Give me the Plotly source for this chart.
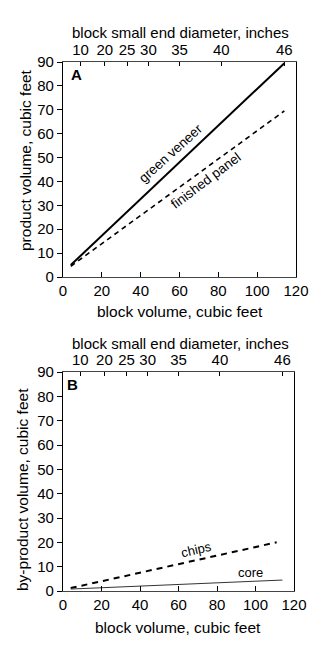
import plotly.graph_objects as go

# ---- data ----
block_vol = [4, 114]                 # block volume, cubic feet (line ends)
green_veneer = [5, 89.5]             # product volume, cubic feet
finished_panel = [4.5, 69.5]
chips_vol = [4, 111]
chips = [1.2, 20]
core_vol = [4, 114]
core = [0.8, 4.5]

x_ticks = [0, 20, 40, 60, 80, 100, 120]
y_ticks = [0, 10, 20, 30, 40, 50, 60, 70, 80, 90]
diam_labels = ["10", "20", "25", "30", "35", "40", "46"]
diam_pos = [9, 21.5, 33, 44, 60, 81.5, 114]   # block volume at each diameter

FONT = "Liberation Sans, Arial, Helvetica, sans-serif"
W, H = 325, 653

def px_x(p):
    return p / W

def px_y(p):
    return 1 - p / H

fig = go.Figure()

# Panel A
fig.add_trace(go.Scatter(x=block_vol, y=green_veneer, mode="lines",
                         line=dict(color="black", width=2), xaxis="x", yaxis="y",
                         showlegend=False, hoverinfo="skip"))
fig.add_trace(go.Scatter(x=block_vol, y=finished_panel, mode="lines",
                         line=dict(color="black", width=1.6, dash="5px,4px"),
                         xaxis="x", yaxis="y", showlegend=False, hoverinfo="skip"))
# Panel B
fig.add_trace(go.Scatter(x=chips_vol, y=chips, mode="lines",
                         line=dict(color="black", width=2, dash="6px,5px"),
                         xaxis="x2", yaxis="y2", showlegend=False, hoverinfo="skip"))
fig.add_trace(go.Scatter(x=core_vol, y=core, mode="lines",
                         line=dict(color="#333333", width=1),
                         xaxis="x2", yaxis="y2", showlegend=False, hoverinfo="skip"))
# invisible traces to attach the top diameter axes
fig.add_trace(go.Scatter(x=diam_pos, y=[y_ticks[0]] * len(diam_pos), mode="markers",
                         marker=dict(opacity=0), xaxis="x3", yaxis="y",
                         showlegend=False, hoverinfo="skip"))
fig.add_trace(go.Scatter(x=diam_pos, y=[y_ticks[0]] * len(diam_pos), mode="markers",
                         marker=dict(opacity=0), xaxis="x4", yaxis="y2",
                         showlegend=False, hoverinfo="skip"))

tickfont = dict(family=FONT, size=15, color="black")

xa_common = dict(range=[0, 120], tickvals=x_ticks, ticks="inside", ticklen=5,
                 tickwidth=1, tickcolor="black", showline=True, linecolor="#444",
                 linewidth=1, showgrid=False, zeroline=False, tickfont=tickfont,
                 automargin=False, fixedrange=True)
ya_common = dict(range=[0, 90], tickvals=y_ticks, ticks="outside", ticklen=5,
                 tickwidth=1, tickcolor="black", showline=True, linecolor="black",
                 linewidth=1.3, mirror=True, showgrid=False, zeroline=False,
                 tickfont=tickfont, automargin=False, fixedrange=True)
top_common = dict(range=[0, 120], tickvals=diam_pos, ticktext=diam_labels,
                  ticks="inside", ticklen=4, tickwidth=1, tickcolor="black",
                  showline=True, linecolor="#444", linewidth=1, side="top",
                  showgrid=False, zeroline=False, tickfont=tickfont,
                  automargin=False, fixedrange=True)

domA_x = [px_x(63), px_x(296)]
domB_x = [px_x(63), px_x(294)]
domA_y = [px_y(277), px_y(62)]
domB_y = [px_y(591), px_y(372)]

fig.update_layout(
    width=W, height=H,
    margin=dict(l=0, r=0, t=0, b=0),
    paper_bgcolor="white", plot_bgcolor="white",
    font=dict(family=FONT, size=15, color="black"),
    xaxis=dict(domain=domA_x, anchor="y", **xa_common),
    yaxis=dict(domain=domA_y, anchor="x", **ya_common),
    xaxis2=dict(domain=domB_x, anchor="y2", **xa_common),
    yaxis2=dict(domain=domB_y, anchor="x2", **ya_common),
    xaxis3=dict(overlaying="x", anchor="y", **top_common),
    xaxis4=dict(overlaying="x2", anchor="y2", **top_common),
)

ann = []
def text(x, y, s, size=15, angle=0, xref="paper", yref="paper", bold=False):
    ann.append(dict(x=x, y=y, xref=xref, yref=yref, text=("<b>%s</b>" % s) if bold else s,
                    showarrow=False, textangle=angle,
                    font=dict(family=FONT, size=size, color="black"),
                    xanchor="center", yanchor="middle"))

# axis titles
text(px_x(180), px_y(32), "block small end diameter, inches")
text(px_x(180), px_y(312), "block volume, cubic feet", size=15.5)
text(px_x(25), px_y(160), "product volume, cubic feet", angle=-90, size=15.5)
text(px_x(180), px_y(343), "block small end diameter, inches")
text(px_x(178), px_y(627), "by-product volume, cubic feet" if False else "block volume, cubic feet", size=15.5)
text(px_x(22), px_y(490), "by-product volume, cubic feet", angle=-90, size=15.5)

# panel letters and line labels
text(6.7, 84.7, "A", size=15, xref="x", yref="y", bold=True)
text(4.8, 84.8, "B", size=15, xref="x2", yref="y2", bold=True)
text(55.5, 51.5, "green veneer", size=13.5, angle=-42, xref="x", yref="y")
text(73.6, 40.5, "finished panel", size=13.5, angle=-37, xref="x", yref="y")
text(69.4, 16.9, "chips", size=13, angle=-13, xref="x2", yref="y2")
text(97.5, 7.6, "core", size=13, xref="x2", yref="y2")

fig.update_layout(annotations=ann)

fig.write_html("out.html")
